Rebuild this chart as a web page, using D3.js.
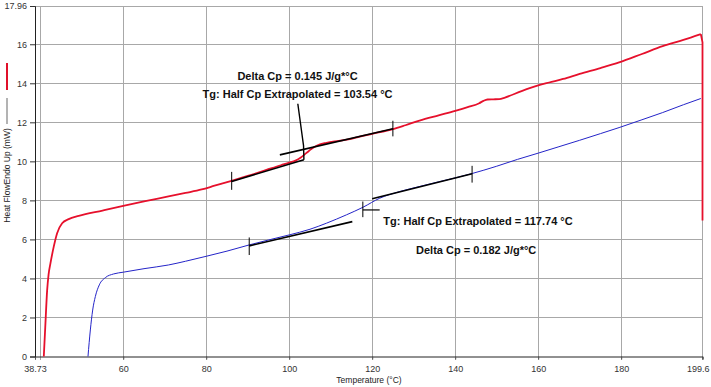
<!DOCTYPE html>
<html><head><meta charset="utf-8">
<script src="https://cdn.jsdelivr.net/npm/d3@7"></script>
<style>
html,body{margin:0;padding:0;background:#fff;}
svg{display:block;font-family:"Liberation Sans",Arial,sans-serif;}
</style></head>
<body>
<svg id="c" width="711" height="387"></svg>
<script>
// ---- data ----
const xTickValues = [38.73, 60, 80, 100, 120, 140, 160, 180, 199.6];
const xTickLabels = ["38.73", "60", "80", "100", "120", "140", "160", "180", "199.6"];
const xGridValues = [40, 60, 80, 100, 120, 140, 160, 180, 199.6];
const yTickValues = [0, 2, 4, 6, 8, 10, 12, 14, 16, 17.96];
const yTickLabels = ["0", "2", "4", "6", "8", "10", "12", "14", "16", "17.96"];
const yGridValues = [2, 4, 6, 8, 10, 12, 14, 16, 17.96];

const redT = [40.85,41.2,41.66,42.0,42.46,43.25,44.06,45.27,46.85,49.26,55,60,65,70.9,75,78.9,82,86.1,90,94.5,98,100,101.5,102.8,104.1,105.4,106.6,108.97,112,114.6,117,120,125,128,131.4,136,140,143,145.8,146.8,147.8,149.2,150.6,152,156,160,162.65,166,170,175,179.5,185,190,195,199.2];
const redV = [0,1.5,3.4,4.2,4.78,5.63,6.32,6.83,7.04,7.2,7.48,7.72,7.95,8.2,8.38,8.56,8.75,9.0,9.25,9.56,9.8,9.93,10.04,10.2,10.42,10.64,10.8,10.95,11.05,11.14,11.27,11.41,11.65,11.85,12.09,12.36,12.59,12.78,12.98,13.1,13.17,13.18,13.19,13.27,13.6,13.89,14.04,14.22,14.48,14.78,15.07,15.5,15.9,16.22,16.52];
const redDropT = [199.2, 199.6, 199.6];
const redDropV = [16.52, 16.1, 6.97];

const blueT = [51.5,52.07,52.63,53.27,54.23,55.68,57.67,60,65,70.9,75,79.7,85,90.4,95,100,105,108.97,113.8,117.8,121.8,126.6,131.4,136,140,143.8,150,155,160,165,170,175,179.5,185,190,195,199.2];
const blueV = [0,1.36,2.38,3.07,3.67,4.04,4.23,4.32,4.5,4.69,4.88,5.12,5.4,5.72,5.97,6.23,6.52,6.83,7.26,7.65,8.11,8.45,8.71,8.95,9.15,9.36,9.75,10.1,10.42,10.75,11.08,11.42,11.73,12.13,12.5,12.9,13.22];

// annotation values (data units)
const redLowTan = [[86.13, 8.97], [103.54, 10.08]];
const redHighTan = [[97.74, 10.33], [124.98, 11.67]];
const redTicks = [[86.13, 8.54, 9.46], [124.98, 11.28, 12.08]];
const redLeader = [[102.07, 12.95], [103.45, 10.8], [103.54, 10.08]];
const blueLowTan = [[90.36, 5.67], [115.2, 6.91]];
const blueHighTan = [[120.0, 8.08], [144.07, 9.36]];
const blueTicks = [[90.36, 5.2, 6.1], [144.07, 8.91, 9.77], [117.74, 7.14, 7.94]];
const blueTgBar = [[117.74, 7.51], [121.8, 7.51]];
const labels = [
  {t: 102.0, v: 14.15, text: "Delta Cp = 0.145 J/g*°C", anchor: "middle"},
  {t: 102.0, v: 13.26, text: "Tg: Half Cp Extrapolated = 103.54 °C", anchor: "middle"},
  {t: 122.68, v: 6.75, text: "Tg: Half Cp Extrapolated = 117.74 °C", anchor: "start"},
  {t: 130.56, v: 5.24, text: "Delta Cp = 0.182 J/g*°C", anchor: "start"}
];

// ---- chart ----
const svg = d3.select("#c");
const x = d3.scaleLinear().domain([38.73, 199.6]).range([35, 702.5]);
const y = d3.scaleLinear().domain([0, 17.96]).range([356.5, 6]);

// grid
svg.append("g").selectAll("line").data(xGridValues).join("line")
  .attr("x1", d => x(d)).attr("x2", d => x(d)).attr("y1", y(17.96)).attr("y2", y(0) + 3)
  .attr("stroke", "#a8a8a8").attr("stroke-width", 1).attr("shape-rendering", "crispEdges");
svg.append("g").selectAll("line").data(yGridValues).join("line")
  .attr("x1", x(38.73)).attr("x2", x(199.6)).attr("y1", d => y(d)).attr("y2", d => y(d))
  .attr("stroke", "#a8a8a8").attr("stroke-width", 1).attr("shape-rendering", "crispEdges");

// axes
const xAxis = d3.axisBottom(x).tickValues(xTickValues).tickFormat((d, i) => xTickLabels[i]).tickSize(3).tickPadding(6);
const gx = svg.append("g").attr("transform", `translate(0,${y(0)})`).call(xAxis);
gx.select(".domain").attr("stroke", "#222");
gx.selectAll(".tick line").attr("stroke", "#555");
gx.selectAll("text").attr("font-size", 9).attr("fill", "#333").attr("font-family", "Liberation Sans, Arial, sans-serif");
gx.selectAll("text").filter((d, i) => i === xTickValues.length - 1).attr("text-anchor", "end").attr("dx", 6.5);

const yAxis = d3.axisLeft(y).tickValues(yTickValues).tickFormat((d, i) => yTickLabels[i]).tickSize(5).tickPadding(3);
const gy = svg.append("g").attr("transform", `translate(${x(38.73)},0)`).call(yAxis);
gy.select(".domain").attr("stroke", "#222");
gy.selectAll(".tick line").attr("stroke", "#333");
gy.selectAll("text").attr("font-size", 9).attr("fill", "#333").attr("font-family", "Liberation Sans, Arial, sans-serif");

// axis titles
svg.append("text").attr("x", 369).attr("y", 383).attr("text-anchor", "middle")
  .attr("font-size", 8.5).attr("fill", "#222").text("Temperature (°C)");
svg.append("text").attr("transform", "translate(10,175.5) rotate(-90)").attr("text-anchor", "middle")
  .attr("font-size", 8.5).attr("fill", "#222").text("Heat FlowEndo Up (mW)");
svg.append("line").attr("x1", 7).attr("x2", 7).attr("y1", 98).attr("y2", 124).attr("stroke", "#808080").attr("stroke-width", 1.2);
svg.append("line").attr("x1", 7).attr("x2", 7).attr("y1", 63).attr("y2", 90).attr("stroke", "#e0102a").attr("stroke-width", 2);

// curves
const line = d3.line().x(d => x(d[0])).y(d => y(d[1])).curve(d3.curveMonotoneX);
const lin = d3.line().x(d => x(d[0])).y(d => y(d[1]));
const redPts = redT.map((t, i) => [t, redV[i]]);
const bluePts = blueT.map((t, i) => [t, blueV[i]]);
const dropPts = redDropT.map((t, i) => [t, redDropV[i]]);

svg.append("path").attr("d", line(bluePts)).attr("fill", "none").attr("stroke", "#2424c8").attr("stroke-width", 1);
svg.append("path").attr("d", line(redPts)).attr("fill", "none").attr("stroke", "#e6102c").attr("stroke-width", 1.8);
svg.append("path").attr("d", lin(dropPts)).attr("fill", "none").attr("stroke", "#e6102c").attr("stroke-width", 1.8);

// annotations
const ann = svg.append("g").attr("stroke", "#000").attr("fill", "none");
[redLowTan, redHighTan, blueLowTan, blueHighTan].forEach(seg => {
  ann.append("path").attr("d", lin(seg)).attr("stroke-width", 1.6);
});
ann.append("path").attr("d", lin(redLeader)).attr("stroke-width", 1.4);
ann.append("path").attr("d", lin(blueTgBar)).attr("stroke-width", 1.2);
[...redTicks, ...blueTicks].forEach(tk => {
  ann.append("line").attr("x1", x(tk[0])).attr("x2", x(tk[0])).attr("y1", y(tk[1])).attr("y2", y(tk[2])).attr("stroke-width", 1);
});

svg.append("g").selectAll("text").data(labels).join("text")
  .attr("x", d => x(d.t)).attr("y", d => y(d.v)).attr("text-anchor", d => d.anchor)
  .attr("font-size", 11).attr("font-weight", "bold").attr("fill", "#111").text(d => d.text);
</script>
</body></html>
